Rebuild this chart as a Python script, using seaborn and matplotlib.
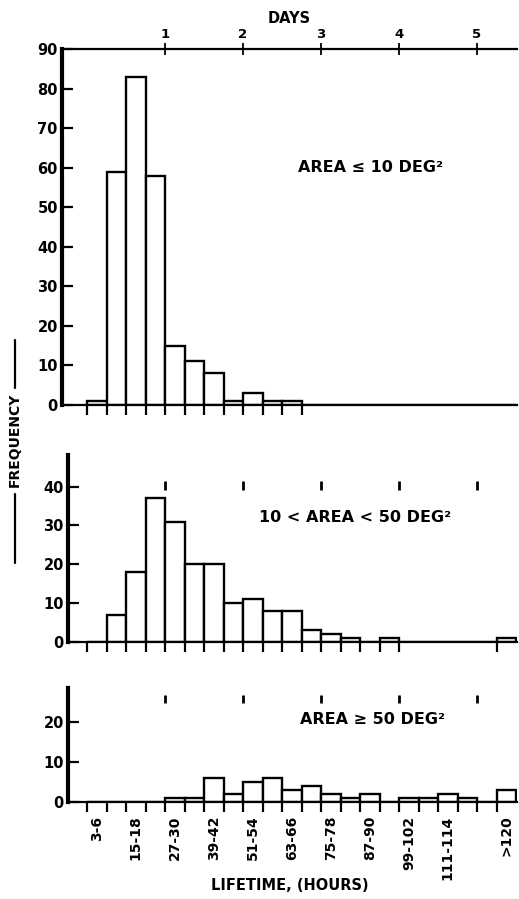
"""
Lifetime histograms by area class
"""

import numpy as np
import matplotlib
matplotlib.use("Agg")
import matplotlib.pyplot as plt
from matplotlib.lines import Line2D
import seaborn as sns

# %% data: counts per 6-hour bin (last bin is >120 h)

bin_edges = list(range(0, 133, 6))
bin_labels = ["3-6", "", "15-18", "", "27-30", "", "39-42", "", "51-54", "",
              "63-66", "", "75-78", "", "87-90", "", "99-102", "", "111-114",
              "", "", ">120"]
small_area = [1, 59, 83, 58, 15, 11, 8, 1, 3, 1, 1, 0, 0, 0, 0, 0, 0, 0, 0, 0, 0, 0]
medium_area = [0, 7, 18, 37, 31, 20, 20, 10, 11, 8, 8, 3, 2, 1, 0, 1, 0, 0, 0, 0, 0, 1]
large_area = [0, 0, 0, 0, 1, 1, 6, 2, 5, 6, 3, 4, 2, 1, 2, 0, 1, 1, 2, 1, 0, 3]
day_hours = [24, 48, 72, 96, 120]
day_labels = ["1", "2", "3", "4", "5"]

centers = [(a + b) / 2 for a, b in zip(bin_edges[:-1], bin_edges[1:])]

# %% style
sns.set_style("ticks")
plt.rcParams['font.family'] = ['DejaVu Sans']
plt.rcParams['font.weight'] = 'bold'
plt.rcParams['axes.linewidth'] = 1.6
for key in ['text.color', 'axes.labelcolor', 'xtick.color', 'ytick.color',
            'axes.edgecolor']:
    plt.rcParams[key] = 'black'

fig = plt.figure(figsize=(5.19, 8.99), dpi=100)
W, H = 519, 899


def rect(left, right, y0, ytop):
    return [left / W, 1 - y0 / H, (right - left) / W, (y0 - ytop) / H]


ax_top = fig.add_axes(rect(62, 517, 405, 49))
ax_mid = fig.add_axes(rect(68, 517, 641.7, 455))
ax_bot = fig.add_axes(rect(68, 517, 801.7, 688))

panels = [
    (ax_top, small_area, (0, 90), list(range(0, 91, 10)), bin_edges[:12], -7.7),
    (ax_mid, medium_area, (0, 48.2), [0, 10, 20, 30, 40], bin_edges[:17] + [126], -5.85),
    (ax_bot, large_area, (0, 28.4), [0, 10, 20], bin_edges[:22], -5.85),
]

for ax, counts, ylim, yticks, xticks, xleft in panels:
    sns.histplot(x=centers, weights=counts, bins=bin_edges, ax=ax,
                 fill=True, facecolor='white', edgecolor='black',
                 linewidth=1.7, alpha=1)
    ax.set_xlim(xleft, 132.3)
    ax.set_ylim(*ylim)
    ax.set_yticks(yticks)
    ax.set_xticks(xticks)
    ax.set_xticklabels([])
    ax.set_xlabel("")
    ax.set_ylabel("")
    ax.tick_params(axis='y', direction='in', length=8, width=1.6,
                   labelsize=10.5, pad=3)
    ax.tick_params(axis='x', which='major', direction='out', length=7,
                   width=1.6)
    ax.spines['left'].set_linewidth(3)
    ax.spines['right'].set_visible(False)
    ax.spines['top'].set_visible(False)
    for lab in ax.get_yticklabels():
        lab.set_fontweight('bold')

# day marks on the lower panels
ax_mid.vlines(day_hours, 39.1, 41.5, color='black', lw=2)
ax_bot.vlines(day_hours, 24.7, 26.7, color='black', lw=2)

# top axis in days
twin = ax_top.twiny()
twin.set_xlim(ax_top.get_xlim())
twin.set_xticks(day_hours)
twin.set_xticklabels(day_labels, fontsize=9.5, fontweight='bold')
twin.tick_params(axis='x', direction='inout', length=9, width=1.3, pad=1)
for side in ['left', 'right', 'bottom']:
    twin.spines[side].set_visible(False)
twin.spines['top'].set_linewidth(1.6)
twin.set_xlabel("DAYS", fontsize=10.5, fontweight='bold', labelpad=4)

# bottom category labels
ax_bot.set_xticks(centers, minor=True)
ax_bot.set_xticklabels(bin_labels, minor=True, rotation=90, fontsize=10,
                       fontweight='bold')
ax_bot.tick_params(axis='x', which='minor', length=0, pad=10)

# annotations
fig.text(370 / W, 1 - 168 / H, "AREA \u2264 10 DEG\u00b2", ha='center',
         va='center', fontsize=11.5, fontweight='bold')
fig.text(355 / W, 1 - 517 / H, "10 < AREA < 50 DEG\u00b2", ha='center',
         va='center', fontsize=11.5, fontweight='bold')
fig.text(372 / W, 1 - 720 / H, "AREA \u2265 50 DEG\u00b2", ha='center',
         va='center', fontsize=11.5, fontweight='bold')
fig.text(290 / W, 1 - 885 / H, "LIFETIME, (HOURS)", ha='center',
         va='center', fontsize=10.5, fontweight='bold')

# frequency label with rules either side
fig.text(15 / W, 1 - 440 / H, "FREQUENCY", rotation=90, ha='center',
         va='center', fontsize=10, fontweight='bold')
fig.add_artist(Line2D([15 / W, 15 / W], [1 - 388 / H, 1 - 340 / H],
                      color='black', lw=1.6))
fig.add_artist(Line2D([15 / W, 15 / W], [1 - 563 / H, 1 - 494 / H],
                      color='black', lw=1.6))

fig.savefig("out.png", dpi=100)
